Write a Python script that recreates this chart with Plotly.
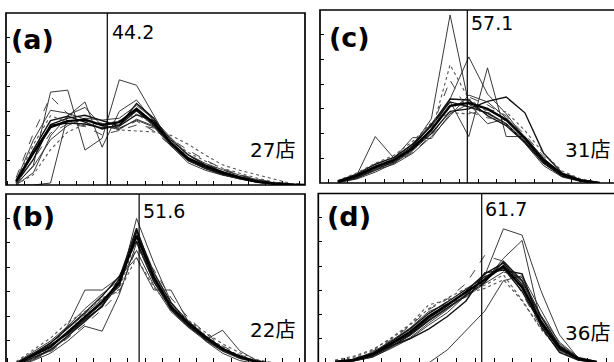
import plotly.graph_objects as go

W, H = 614, 362

# ---------------- data ----------------
panel_letters = ["(a)", "(b)", "(c)", "(d)"]
mean_values = [44.2, 51.6, 57.1, 61.7]
store_labels = ["27店", "22店", "31店", "36店"]

bins_ab = [23, 27, 31, 35, 39, 43, 47, 51, 55, 59, 63, 67, 71, 75, 79, 83, 87, 91]
bins_cd = [22.5, 27.5, 32.5, 37.5, 42.5, 47.5, 52.5, 57.5, 62.5, 67.5, 72.5, 77.5, 82.5, 87.5, 92.5]

# panel (a)
a_mean = [0.8, 6.5, 11.8, 13.0, 13.3, 12.2, 12.8, 15.5, 12.6, 8.6, 5.4, 3.8, 2.5, 1.5, 0.7, 0.3, 0.1, 0]
a01 = [0, 4.0, 18.9, 19.3, 7.1, 9.5, 21.4, 20.3, 14.2, 8.0, 4.5, 3.0, 2.0, 1.2, 0.5, 0.2, 0, 0]
a02 = [0, 2.5, 10.0, 14.0, 16.9, 7.7, 15.0, 17.3, 13.0, 8.5, 5.5, 3.5, 2.2, 1.3, 0.6, 0.2, 0, 0]
a03 = [1.5, 10.5, 18.0, 14.5, 13.0, 12.5, 11.5, 13.0, 11.0, 8.0, 6.0, 4.2, 3.0, 2.0, 1.0, 0.5, 0.2, 0]
a04 = [0.4, 5.2, 12.3, 13.6, 14.2, 13.1, 12.0, 14.3, 13.1, 9.2, 6.1, 4.1, 2.7, 1.7, 0.9, 0.4, 0.1, 0]
a05 = [0.6, 7.2, 13.1, 14.0, 12.8, 11.4, 12.2, 15.1, 12.1, 8.3, 5.1, 3.4, 2.1, 1.4, 0.7, 0.3, 0, 0]
a06 = [0.2, 3.8, 9.2, 12.1, 13.6, 13.2, 13.6, 16.2, 13.4, 9.6, 6.2, 4.4, 3.1, 2.0, 1.1, 0.4, 0.1, 0]
a07 = [0.7, 8.2, 14.1, 12.8, 12.1, 12.3, 13.1, 14.4, 12.4, 9.1, 6.6, 4.9, 3.4, 2.4, 1.4, 0.6, 0.2, 0]
a08 = [0.1, 2.1, 7.2, 10.8, 12.4, 12.6, 11.2, 11.0, 10.8, 10.1, 8.3, 6.1, 4.1, 3.0, 2.1, 1.1, 0.3, 0]
a09 = [0, 0, 0.4, 14.2, 15.8, 12.0, 11.3, 13.4, 12.0, 8.2, 5.6, 3.9, 2.6, 1.6, 0.8, 0.3, 0.1, 0]
a10 = [0.4, 6.6, 12.2, 12.6, 12.4, 11.6, 12.1, 16.6, 13.6, 8.4, 5.0, 3.4, 2.3, 1.4, 0.6, 0.2, 0, 0]
a11 = [0.3, 5.1, 10.6, 12.4, 11.9, 10.2, 11.1, 12.2, 11.6, 9.4, 7.1, 5.1, 3.3, 2.1, 1.2, 0.5, 0.1, 0]
a12 = [0.9, 9.1, 15.2, 14.6, 13.4, 12.0, 11.6, 13.2, 11.8, 7.9, 4.9, 3.4, 2.1, 1.2, 0.6, 0.2, 0, 0]

# panel (b)
b_mean = [0.3, 2.0, 3.8, 6.8, 9.8, 13.0, 17.0, 26.5, 18.0, 12.0, 8.6, 5.8, 3.4, 1.8, 0.8, 0.3, 0.1, 0]
b01 = [0, 1.2, 3.5, 8.2, 15.4, 15.4, 18.0, 22.0, 15.4, 15.4, 9.0, 5.0, 2.5, 1.0, 0.4, 0, 0, 0]
b02 = [0.5, 2.5, 4.5, 7.5, 10.5, 13.5, 16.0, 30.0, 21.0, 13.0, 8.5, 5.2, 7.2, 3.0, 1.0, 0.3, 0, 0]
b03 = [0.2, 1.6, 3.2, 6.0, 9.0, 12.2, 16.6, 27.5, 19.0, 12.8, 9.0, 6.0, 3.5, 1.8, 0.8, 0.3, 0.1, 0]
b04 = [0.4, 2.4, 4.6, 7.6, 10.8, 14.2, 18.2, 25.4, 17.2, 11.4, 8.0, 5.4, 3.1, 1.6, 0.7, 0.2, 0, 0]
b05 = [0.1, 1.2, 2.8, 5.6, 8.4, 11.4, 15.0, 24.0, 19.6, 13.8, 9.8, 6.6, 4.0, 2.2, 1.0, 0.4, 0.1, 0]
b06 = [0.6, 2.8, 5.0, 8.0, 11.6, 14.6, 17.4, 23.5, 16.4, 11.0, 7.8, 5.1, 2.9, 1.4, 0.6, 0.2, 0, 0]
b07 = [0.2, 1.8, 3.6, 7.0, 10.2, 12.8, 15.6, 26.0, 18.8, 12.4, 9.2, 6.2, 3.8, 2.0, 0.9, 0.3, 0.1, 0]
b08 = [0.3, 2.2, 4.2, 6.4, 9.4, 12.0, 17.8, 28.0, 17.8, 11.6, 8.2, 5.6, 3.2, 1.7, 0.7, 0.2, 0, 0]
b09 = [0.8, 3.2, 5.6, 8.8, 11.0, 13.8, 15.2, 22.0, 16.0, 12.0, 9.2, 6.8, 4.4, 2.6, 1.2, 0.5, 0.1, 0]
b10 = [0.1, 1.4, 3.0, 5.8, 9.6, 12.6, 16.2, 27.0, 18.4, 12.2, 8.4, 5.6, 3.2, 1.6, 0.7, 0.2, 0, 0]
b11 = [0, 1.0, 2.5, 5.0, 8.0, 7.0, 14.5, 25.0, 17.0, 12.0, 8.0, 5.3, 3.0, 1.5, 0.6, 0.2, 0, 0]

# panel (c)
c_mean = [0.3, 1.4, 3.2, 4.6, 7.0, 10.8, 15.6, 16.2, 15.0, 12.8, 9.0, 4.6, 1.8, 0.5, 0]
c01 = [0.3, 1.5, 9.4, 5.0, 9.2, 9.0, 14.0, 16.0, 12.0, 13.0, 9.0, 4.0, 1.5, 0.5, 0]
c02 = [0, 1.0, 2.5, 4.5, 7.5, 13.0, 34.0, 16.0, 14.0, 12.0, 8.0, 3.5, 1.2, 0.3, 0]
c03 = [0.2, 1.2, 3.0, 5.0, 8.0, 12.0, 16.5, 9.4, 23.3, 9.4, 9.4, 5.0, 1.5, 0.4, 0]
c04 = [0.1, 0.8, 2.2, 4.0, 6.5, 10.5, 17.0, 25.5, 18.0, 14.0, 9.0, 4.0, 1.3, 0.4, 0]
c05 = [0.2, 1.0, 2.8, 4.2, 6.8, 10.0, 14.5, 15.0, 16.5, 17.4, 14.2, 6.0, 2.0, 0.6, 0]
c06 = [0.4, 1.8, 3.8, 5.2, 7.8, 11.6, 16.4, 15.4, 14.2, 12.0, 8.4, 4.2, 1.6, 0.4, 0]
c07 = [0.2, 1.2, 2.8, 4.0, 6.2, 9.6, 14.8, 17.4, 15.8, 13.6, 9.8, 5.4, 2.2, 0.7, 0.1]
c08 = [0.5, 2.0, 4.0, 5.6, 8.4, 12.2, 14.2, 14.0, 14.8, 14.4, 10.6, 6.0, 2.4, 0.8, 0.1]
c09 = [0.3, 1.6, 3.4, 4.8, 7.4, 11.8, 17.0, 16.8, 13.6, 11.6, 8.2, 4.0, 1.4, 0.4, 0]
c10 = [0.1, 1.0, 2.6, 3.8, 6.0, 9.4, 13.6, 17.8, 16.4, 13.2, 9.4, 5.0, 1.9, 0.6, 0]
c11 = [0.2, 1.3, 3.0, 4.4, 6.6, 10.2, 23.9, 17.0, 14.4, 11.8, 8.6, 4.4, 1.6, 0.5, 0]
c12 = [0.3, 1.4, 3.3, 4.9, 7.2, 11.0, 20.8, 14.4, 13.2, 12.6, 9.2, 4.8, 1.7, 0.5, 0]

# panel (d)
d_mean = [0.2, 0.6, 1.8, 4.0, 6.4, 9.6, 12.0, 14.6, 17.2, 20.0, 15.6, 8.6, 3.2, 0.9, 0.2]
d01 = [0, 0.4, 1.2, 3.0, 5.0, 7.8, 10.4, 14.0, 18.0, 27.7, 26.4, 15.0, 5.8, 1.0, 0.2]
d02 = [0.1, 0.5, 1.5, 3.4, 5.6, 8.6, 11.2, 13.8, 16.8, 21.6, 25.3, 8.4, 2.6, 0.6, 0.1]
d03 = [0, 0, 0, 0, 0, 0, 2.7, 6.8, 10.7, 17.0, 18.0, 11.0, 4.0, 1.0, 0]
d04 = [0.3, 0.9, 2.4, 4.8, 7.6, 11.0, 13.2, 16.4, 22.2, 21.0, 14.4, 7.4, 2.6, 0.7, 0.1]
d05 = [0.2, 0.7, 2.0, 4.4, 7.0, 10.2, 12.6, 15.2, 17.8, 19.6, 14.8, 8.0, 2.8, 0.8, 0.2]
d06 = [0.1, 0.5, 1.4, 3.4, 5.8, 8.8, 11.4, 14.0, 16.6, 21.0, 17.0, 9.6, 3.6, 1.0, 0.2]
d07 = [0.6, 1.4, 2.8, 5.0, 7.8, 11.2, 13.4, 15.4, 16.0, 18.2, 13.0, 7.0, 2.6, 0.8, 0.2]
d08 = [0.2, 0.6, 1.6, 3.8, 6.0, 9.2, 11.8, 14.8, 18.4, 20.6, 16.2, 8.2, 2.9, 0.8, 0.1]
d09 = [0.3, 0.8, 2.2, 4.6, 7.2, 10.6, 12.2, 13.6, 16.4, 18.8, 17.6, 9.9, 4.3, 1.2, 0.3]
d10 = [0.4, 1.2, 2.6, 5.2, 8.0, 12.0, 13.0, 14.4, 15.4, 17.2, 12.8, 7.2, 2.4, 0.6, 0.1]
d11 = [0.1, 0.4, 1.2, 3.2, 5.2, 8.2, 11.0, 14.2, 17.6, 20.8, 16.6, 9.0, 3.4, 0.9, 0.2]
d12 = [0.2, 0.6, 1.9, 3.6, 5.0, 7.0, 9.6, 12.8, 18.6, 19.2, 18.4, 7.6, 2.2, 0.6, 0.1]

# ---------------- styles ----------------
STY = {
    "bold": dict(color="#000000", width=2.4, dash="solid"),
    "med": dict(color="#111111", width=1.4, dash="solid"),
    "thin": dict(color="#222222", width=0.9, dash="solid"),
    "dash": dict(color="#444444", width=1.0, dash="dash"),
    "dot": dict(color="#555555", width=1.1, dash="dot"),
}

panels = [
    ("x", "y", bins_ab, [(a01, "thin"), (a02, "thin"), (a03, "dash"), (a04, "med"), (a05, "med"),
                         (a06, "thin"), (a07, "dot"), (a08, "dot"), (a09, "thin"), (a10, "med"),
                         (a11, "dash"), (a12, "thin"), (a_mean, "bold")]),
    ("x2", "y2", bins_ab, [(b01, "thin"), (b02, "thin"), (b03, "med"), (b04, "med"), (b05, "dash"),
                           (b06, "thin"), (b07, "dot"), (b08, "med"), (b09, "dot"), (b10, "thin"),
                           (b11, "thin"), (b_mean, "bold")]),
    ("x3", "y3", bins_cd, [(c01, "thin"), (c02, "thin"), (c03, "thin"), (c04, "thin"), (c05, "med"),
                           (c06, "med"), (c07, "dash"), (c08, "dot"), (c09, "med"), (c10, "thin"),
                           (c11, "dot"), (c12, "dash"), (c_mean, "bold")]),
    ("x4", "y4", bins_cd, [(d01, "thin"), (d02, "thin"), (d03, "thin"), (d04, "dash"), (d05, "med"),
                           (d06, "med"), (d07, "dot"), (d08, "med"), (d09, "thin"), (d10, "dot"),
                           (d11, "thin"), (d12, "med"), (d_mean, "bold")]),
]

fig = go.Figure()
for xa, ya, bins, series in panels:
    for vals, st in series:
        fig.add_trace(go.Scatter(x=bins, y=vals, mode="lines", xaxis=xa, yaxis=ya,
                                 line=dict(**STY[st]), hoverinfo="skip", showlegend=False))

def px(v):
    return v / W

def py(v):
    return 1 - v / H

common_x = dict(showgrid=False, zeroline=False, showticklabels=False, showline=False,
                ticks="inside", ticklen=4, tickwidth=1, tickcolor="black")
common_y = dict(showgrid=False, zeroline=False, showticklabels=False, showline=False,
                ticks="inside", ticklen=4, tickwidth=1, tickcolor="black", tick0=0, dtick=5)

layout = dict(
    width=W, height=H, margin=dict(l=0, r=0, t=0, b=0),
    paper_bgcolor="white", plot_bgcolor="white", showlegend=False,
    xaxis=dict(domain=[px(6), px(305)], range=[20.64, 90.18], anchor="y", tick0=25, dtick=4, **common_x),
    yaxis=dict(domain=[py(185), py(13)], range=[0, 35], anchor="x", **common_y),
    xaxis2=dict(domain=[px(6), px(305)], range=[20.64, 90.18], anchor="y2", tick0=25, dtick=4, **common_x),
    yaxis2=dict(domain=[0, py(194)], range=[0.71, 35], anchor="x2", **common_y),
    xaxis3=dict(domain=[px(320), 1], range=[17.72, 96.32], anchor="y3", tick0=25, dtick=5, **common_x),
    yaxis3=dict(domain=[py(183), py(10)], range=[0, 35], anchor="x3", **common_y),
    xaxis4=dict(domain=[px(318.3), 1], range=[18.01, 97.07], anchor="y4", tick0=25, dtick=5, **common_x),
    yaxis4=dict(domain=[0, py(193.5)], range=[0.2, 35], anchor="x4", **common_y),
)
fig.update_layout(**layout)

shapes = []
# panel borders (paper coords, may extend past the page edge like the cropped original)
borders = [(6, 13, 305, 185), (6, 194, 305, 366), (320, 10, 620, 183), (318.3, 193.5, 620, 366)]
for x0, y0, x1, y1 in borders:
    shapes.append(dict(type="rect", xref="paper", yref="paper", x0=px(x0), x1=px(x1),
                       y0=py(y1), y1=py(y0), line=dict(color="black", width=1.7),
                       fillcolor="rgba(0,0,0,0)", layer="above"))
# mean lines
for (xa, ya, _, _), m in zip(panels, mean_values):
    shapes.append(dict(type="line", xref=xa, yref=ya + " domain", x0=m, x1=m, y0=0, y1=1,
                       line=dict(color="black", width=1.2), layer="above"))
fig.update_layout(shapes=shapes)

NUMF = dict(family="DejaVu Sans, Noto Sans CJK JP", size=19, color="black")
LETF = dict(family="DejaVu Sans", size=27, color="black")
CNTF = dict(family="DejaVu Sans, Noto Sans CJK JP", size=20, color="black")

letter_pos = [(9, 40), (9, 216), (327, 37), (325, 216)]
mean_pos = [(110, 31.5), (141, 211), (469, 23.5), (483, 209)]
count_pos = [(297, 150), (297, 330), (612, 150), (612, 333)]

ann = []
for i in range(4):
    lx, ly = letter_pos[i]
    ann.append(dict(xref="paper", yref="paper", x=px(lx), y=py(ly), xanchor="left", yanchor="middle",
                    text="<b>" + panel_letters[i] + "</b>", showarrow=False, font=LETF))
    mx, my = mean_pos[i]
    ann.append(dict(xref="paper", yref="paper", x=px(mx), y=py(my), xanchor="left", yanchor="middle",
                    text=f"{mean_values[i]:.1f}", showarrow=False, font=NUMF))
    cx, cy = count_pos[i]
    ann.append(dict(xref="paper", yref="paper", x=px(cx), y=py(cy), xanchor="right", yanchor="middle",
                    text=store_labels[i], showarrow=False, font=CNTF))
fig.update_layout(annotations=ann)

fig.write_html("out.html")
